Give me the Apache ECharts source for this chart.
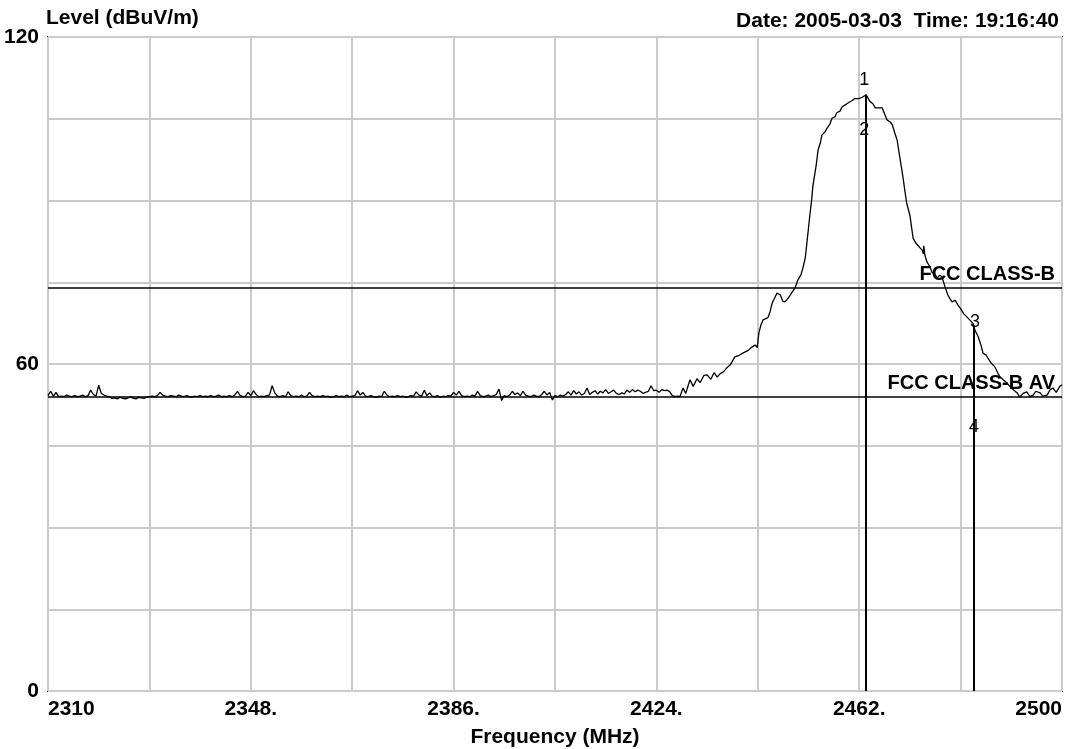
<!DOCTYPE html>
<html>
<head>
<meta charset="utf-8">
<title>Level (dBuV/m) vs Frequency (MHz)</title>
<script src="https://cdn.jsdelivr.net/npm/echarts@6/dist/echarts.min.js"></script>
<style>
  html, body { margin: 0; padding: 0; background: #ffffff; }
  #chart { width: 1085px; height: 749px; }
</style>
</head>
<body>
<div id="chart"></div>
<script>
// Sweep span (MHz)
const SWEEP_START = 2310;
const SWEEP_STOP = 2500;
// Noise floor, sampled every 0.5 MHz from 2310.0 to 2428.0 MHz (dBuV/m)
const NOISE_STEP = 0.5;
const noiseLevels = [
  54.2, 55.0, 54.1, 54.8, 54.0, 54.1, 54.0, 54.3, 54.1, 54.0, 54.2, 54.0, 54.1, 54.3, 54.0, 54.2, 55.2, 54.4, 54.1, 56.1,
  54.6, 54.3, 54.1, 54.0, 53.7, 53.8, 53.6, 53.9, 53.7, 53.6, 53.8, 54.0, 53.7, 53.6, 53.9, 53.8, 53.7, 53.9, 54.0, 54.1,
  54.0, 54.2, 54.8, 54.3, 54.1, 54.0, 54.2, 54.1, 54.0, 54.3, 54.1, 54.0, 54.2, 54.0, 53.9, 54.1, 54.0, 54.2, 54.0, 54.1,
  54.0, 54.2, 54.0, 54.1, 54.3, 54.0, 54.1, 54.0, 54.2, 54.0, 54.3, 55.0, 54.2, 54.0, 54.1, 54.8, 54.2, 55.1, 54.4, 54.0,
  54.1, 54.0, 54.2, 54.3, 56.0, 54.7, 54.1, 54.0, 54.2, 54.0, 54.9, 54.2, 54.0, 54.1, 54.0, 54.3, 54.0, 54.1, 54.8, 54.2,
  54.0, 54.1, 54.0, 54.2, 54.0, 54.1, 53.9, 54.0, 54.2, 54.0, 54.1, 54.0, 54.3, 54.0, 54.1, 54.2, 55.1, 54.3, 54.8, 54.1,
  54.0, 54.2, 54.0, 53.9, 54.1, 54.0, 55.0, 54.3, 54.0, 54.1, 54.0, 54.2, 54.0, 54.1, 53.9, 54.0, 54.2, 54.1, 54.9, 54.3,
  54.1, 55.2, 54.2, 54.7, 54.1, 54.0, 54.2, 53.9, 54.1, 54.0, 54.2, 54.1, 54.8, 54.3, 55.0, 54.2, 54.0, 54.1, 54.0, 54.3,
  54.1, 55.0, 54.2, 54.0, 54.1, 54.3, 54.0, 54.2, 54.4, 55.4, 53.3, 54.2, 54.0, 54.3, 55.0, 54.4, 54.7, 54.2, 55.0, 54.3,
  54.1, 54.0, 54.3, 54.1, 54.0, 54.4, 55.0, 54.3, 54.8, 53.4, 54.2, 54.0, 54.3, 54.1, 54.4, 54.9, 54.3, 55.1, 54.5, 54.9,
  54.3, 54.6, 55.6, 54.4, 54.8, 55.1, 54.5, 55.0, 54.7, 55.3, 54.6, 54.9, 55.2, 54.6, 54.4, 54.7, 54.5, 55.2, 54.8, 55.3,
  54.9, 55.2, 55.0, 54.6, 54.8, 55.0, 56.0, 55.1, 55.2, 54.8, 55.3, 55.1, 55.2, 54.9, 54.2, 54.0, 54.1
];
// Emission around the carrier (MHz / dBuV/m)
const emissionFreqs = [
  2428.4, 2429.0, 2429.5, 2430.3, 2430.9, 2431.6, 2432.2, 2432.9, 2433.5, 2434.2,
  2434.8, 2435.4, 2435.9, 2436.5, 2437.2, 2437.8, 2438.7, 2439.5, 2440.2, 2441.2,
  2441.9, 2442.5, 2442.9, 2443.2, 2443.6, 2444.0, 2444.9, 2445.3, 2445.7, 2446.2,
  2446.6, 2447.2, 2447.7, 2448.1, 2448.7, 2449.0, 2449.6, 2450.0, 2450.5, 2451.1,
  2451.5, 2451.9, 2452.2, 2452.5, 2452.8, 2453.1, 2453.3, 2453.9, 2454.3, 2454.7,
  2455.0, 2455.6, 2456.0, 2456.5, 2456.9, 2457.5, 2457.8, 2458.4, 2458.8, 2459.3,
  2459.9, 2460.6, 2461.2, 2461.9, 2462.5, 2463.3, 2463.6, 2464.0, 2464.6, 2465.0,
  2465.7, 2466.3, 2466.7, 2467.2, 2467.8, 2468.2, 2468.7, 2469.1, 2469.6, 2470.2,
  2470.6, 2470.9, 2471.5, 2472.1, 2472.6, 2473.0, 2473.4, 2473.8, 2474.0, 2474.1,
  2474.3, 2474.7, 2475.3, 2475.6, 2476.2, 2476.6, 2477.1, 2477.5, 2478.1, 2478.6,
  2479.0, 2479.4, 2480.0, 2480.5, 2480.9, 2481.6, 2482.2, 2482.8, 2483.3, 2483.7,
  2484.3, 2484.8, 2485.2, 2485.8, 2486.1, 2486.7, 2487.4, 2488.0, 2488.4, 2489.1,
  2489.7, 2490.3, 2491.0, 2491.6, 2492.1, 2492.7, 2493.4, 2494.0, 2494.6, 2495.1,
  2495.9, 2496.4, 2497.2, 2497.8, 2498.3, 2498.9, 2499.6, 2500.0
];
const emissionLevels = [
  54.0, 55.6, 54.6, 57.1, 55.9, 57.3, 56.6, 57.9, 58.0, 57.2,
  58.4, 57.6, 58.2, 58.5, 59.3, 59.8, 61.3, 61.6, 62.0, 62.5,
  63.1, 63.5, 63.0, 65.7, 67.2, 68.1, 68.5, 69.6, 71.2, 72.2,
  73.0, 72.7, 71.5, 71.4, 72.1, 72.3, 73.4, 74.0, 75.4, 76.4,
  77.8, 79.5, 82.2, 85.0, 87.7, 90.2, 92.5, 96.2, 99.3, 100.5,
  102.0, 102.6, 103.3, 104.0, 105.1, 105.4, 106.1, 106.4, 107.2, 107.5,
  107.9, 108.3, 108.7, 108.7, 108.9, 109.4, 108.9, 108.2, 107.7, 107.0,
  107.0, 107.0, 106.0, 104.8, 104.4, 103.9, 102.3, 101.1, 98.0, 94.3,
  91.5, 89.5, 87.3, 83.1, 82.2, 81.8, 81.3, 80.9, 80.2, 81.7,
  80.0, 78.7, 77.8, 76.9, 76.4, 75.8, 76.3, 76.0, 74.1, 72.7,
  72.0, 71.4, 71.7, 70.8, 70.3, 69.2, 68.6, 68.0, 67.5, 66.2,
  65.0, 63.5, 62.0, 61.6, 61.1, 60.2, 59.5, 58.3, 57.6, 57.0,
  56.5, 55.8, 55.2, 54.7, 53.9, 54.6, 54.9, 54.0, 54.3, 55.0,
  54.7, 54.1, 54.3, 55.3, 55.6, 54.8, 55.9, 56.2
];
// Limit lines
const limitNames = ['FCC CLASS-B', 'FCC CLASS-B AV'];
const limitLevels = [74, 54];
// Markers: 1/3 peak readings, 2/4 average readings
const markerIds = ['1', '2', '3', '4'];
const markerFreqs = [2463.3, 2463.3, 2483.5, 2483.5];
const markerLevels = [109.4, 103.0, 67.0, 48.5];
// Labelled ticks
const xTickLabels = [2310, 2348, 2386, 2424, 2462, 2500];
const yTickLabels = [0, 60, 120];

const HEADER = 'Date: 2005-03-03  Time: 19:16:40';
const FONT = '"Liberation Sans", Arial, sans-serif';

// The x axis runs on offsets from the sweep start so the 19 MHz grid starts at the left edge.
const toAxis = f => +(f - SWEEP_START).toFixed(3);

const trace = [];
noiseLevels.forEach((v, i) => trace.push([toAxis(SWEEP_START + i * NOISE_STEP), v]));
emissionFreqs.forEach((f, i) => trace.push([toAxis(f), emissionLevels[i]]));

const limitLines = limitLevels.map((lv, i) => ({
  yAxis: lv,
  label: {
    show: true,
    formatter: limitNames[i],
    position: 'insideEndTop',
    color: '#000',
    fontFamily: FONT,
    fontWeight: 'bold',
    fontSize: 20,
    distance: [7, 3]
  },
  lineStyle: { color: '#000', width: 1.6, type: 'solid' }
}));

// Marker drop lines from the peak readings down to the floor
const dropLines = [0, 2].map(k => [
  { coord: [toAxis(markerFreqs[k]), markerLevels[k]] },
  { coord: [toAxis(markerFreqs[k]), 0] }
]);

const labelOffsets = [[-2, -15], [-2, 0], [1, -4], [0, 0]];
const markerData = markerIds.map((id, k) => ({
  value: [toAxis(markerFreqs[k]), markerLevels[k]],
  name: id,
  label: { offset: labelOffsets[k] }
}));

const chart = echarts.init(document.getElementById('chart'), null, { renderer: 'canvas' });
chart.setOption({
  animation: false,
  backgroundColor: '#ffffff',
  textStyle: { fontFamily: FONT },
  title: {
    text: HEADER,
    right: 21,
    top: 6,
    textStyle: { fontFamily: FONT, fontWeight: 'bold', fontSize: 21, color: '#000' }
  },
  grid: {
    left: 48, right: 23, top: 37, bottom: 58,
    outerBoundsMode: 'none',
    containLabel: false,
    show: true,
    borderColor: '#000',
    borderWidth: 2,
    backgroundColor: '#ffffff'
  },
  xAxis: {
    type: 'value',
    min: 0,
    max: SWEEP_STOP - SWEEP_START,
    interval: 19,
    name: 'Frequency (MHz)',
    nameLocation: 'middle',
    nameGap: 36,
    nameTextStyle: { fontFamily: FONT, fontWeight: 'bold', fontSize: 21, color: '#000' },
    axisLine: { show: false },
    axisTick: { show: false },
    splitLine: { show: true, lineStyle: { color: '#cacaca', width: 2 } },
    axisLabel: {
      margin: 8,
      color: '#000',
      fontFamily: FONT,
      fontWeight: 'bold',
      fontSize: 21,
      alignMinLabel: 'left',
      alignMaxLabel: 'right',
      formatter: v => {
        const f = Math.round(v + SWEEP_START);
        if (!xTickLabels.includes(f)) return '';
        return (f === SWEEP_START || f === SWEEP_STOP) ? String(f) : f + '.';
      }
    }
  },
  yAxis: {
    type: 'value',
    min: 0,
    max: 120,
    interval: 15,
    name: 'Level (dBuV/m)',
    nameLocation: 'end',
    nameGap: 8,
    nameTextStyle: {
      fontFamily: FONT, fontWeight: 'bold', fontSize: 21, color: '#000',
      align: 'left', verticalAlign: 'bottom', padding: [0, 0, 0, -2]
    },
    axisLine: { show: false },
    axisTick: { show: false },
    splitLine: { show: true, lineStyle: { color: '#cacaca', width: 2 } },
    axisLabel: {
      margin: 9,
      color: '#000',
      fontFamily: FONT,
      fontWeight: 'bold',
      fontSize: 21,
      formatter: v => (yTickLabels.includes(Math.round(v)) ? String(Math.round(v)) : '')
    }
  },
  series: [
    {
      type: 'line',
      name: 'Level',
      data: trace,
      showSymbol: false,
      symbol: 'none',
      lineStyle: { color: '#000', width: 1.3 },
      z: 3,
      markLine: {
        silent: true,
        symbol: ['none', 'none'],
        animation: false,
        label: { show: false },
        lineStyle: { color: '#000', width: 2, type: 'solid' },
        data: [...limitLines, ...dropLines]
      }
    },
    {
      type: 'scatter',
      name: 'Markers',
      data: markerData,
      symbolSize: 0,
      silent: true,
      z: 5,
      label: {
        show: true,
        position: 'inside',
        formatter: p => p.name,
        color: '#000',
        opacity: 1,
        fontFamily: FONT,
        fontWeight: 'normal',
        fontSize: 18
      }
    }
  ]
});
</script>
</body>
</html>
